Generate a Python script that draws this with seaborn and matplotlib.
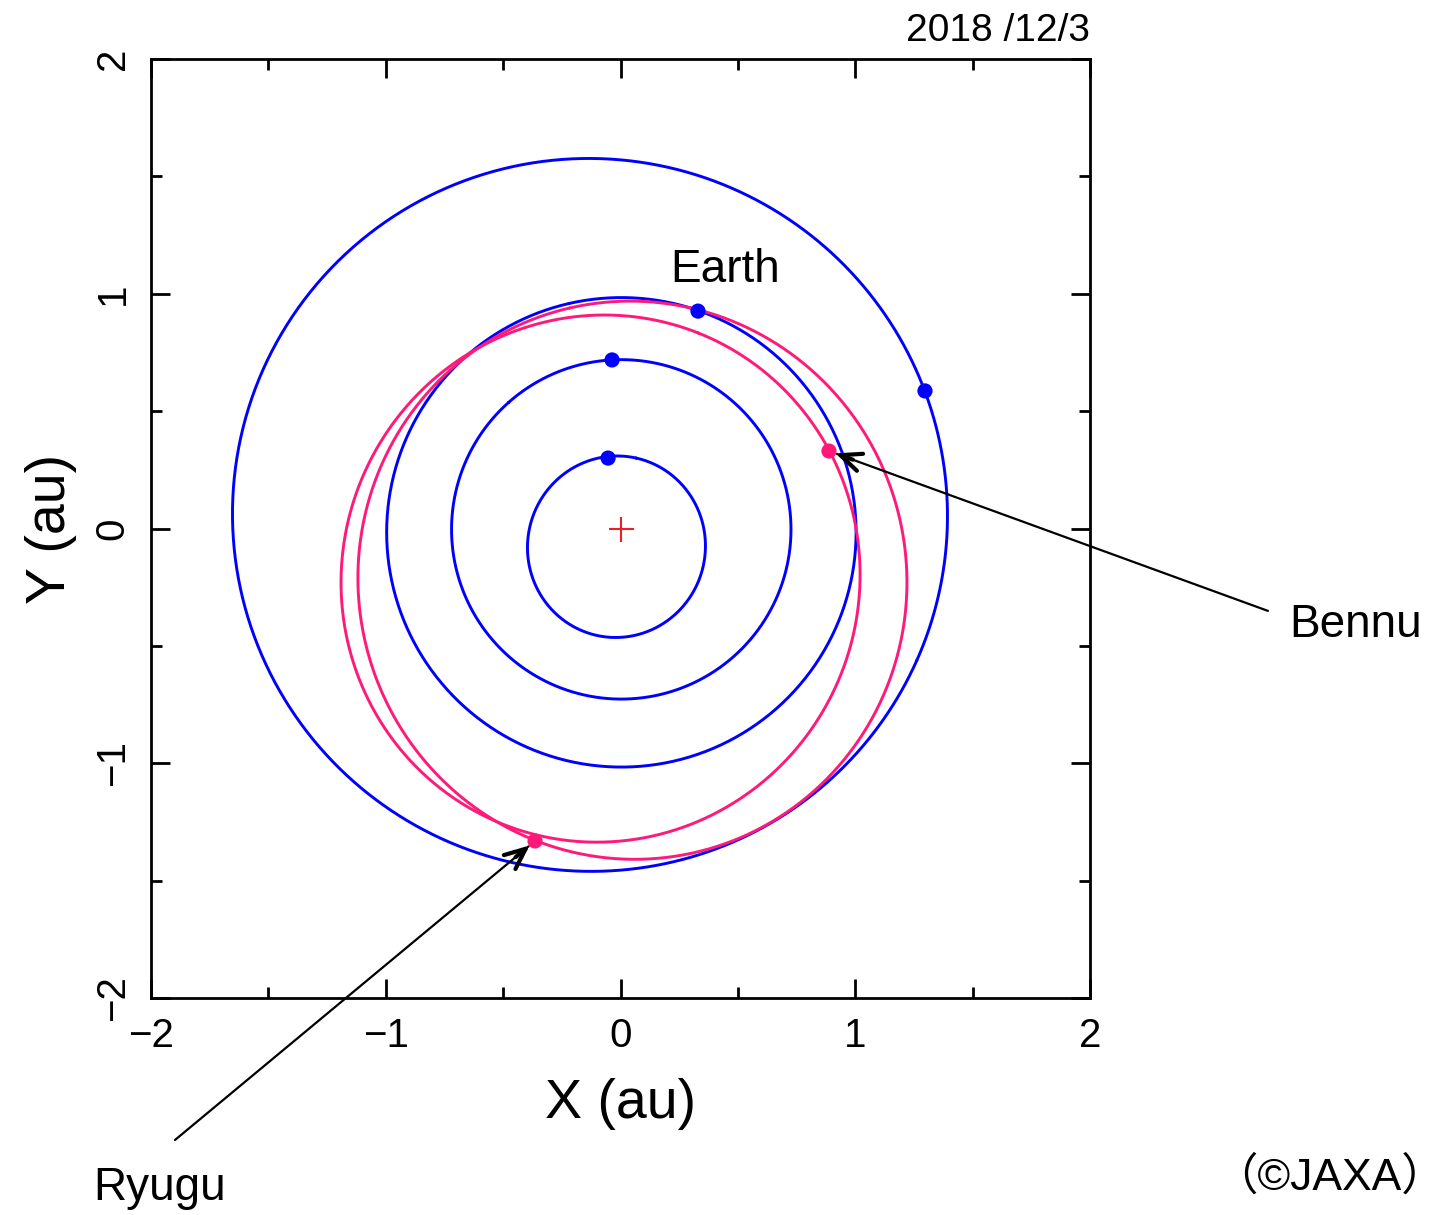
import numpy as np
import pandas as pd
import seaborn as sns
import matplotlib.pyplot as plt

# orbital elements (2D, ecliptic projection): a (au), e, longitude of perihelion (deg)
bodies = ['Mercury', 'Venus', 'Earth', 'Mars', 'Ryugu', 'Bennu']
semi_major = [0.387, 0.723, 1.000, 1.524, 1.190, 1.126]
eccentricity = [0.2056, 0.0068, 0.0167, 0.0934, 0.190, 0.204]
perihelion_lon = [77.5, 131.5, 102.9, 336.0, 103.0, 68.3]

# positions on 2018/12/3 (au)
pos_x = [-0.053, -0.036, 0.330, 1.297, -0.364, 0.888]
pos_y = [0.300, 0.718, 0.926, 0.586, -1.331, 0.330]

blue = '#0000ff'
pink = '#ff1a7a'
colores = {'Mercury': blue, 'Venus': blue, 'Earth': blue, 'Mars': blue,
           'Ryugu': pink, 'Bennu': pink}

# curves from the elements
filas = []
theta = np.linspace(0, 2 * np.pi, 721)
for nombre, a, e, w in zip(bodies, semi_major, eccentricity, perihelion_lon):
    r = a * (1 - e ** 2) / (1 + e * np.cos(theta))
    ang = theta + np.radians(w)
    for i in range(len(theta)):
        filas.append((nombre, i, r[i] * np.cos(ang[i]), r[i] * np.sin(ang[i])))
orbitas = pd.DataFrame(filas, columns=['body', 'k', 'x', 'y'])
puntos = pd.DataFrame({'body': bodies, 'x': pos_x, 'y': pos_y})

sns.set_style('white')
plt.rcParams['font.family'] = ['Liberation Sans', 'DejaVu Sans']
plt.rcParams['text.color'] = 'black'
plt.rcParams['axes.labelcolor'] = 'black'

fig = plt.figure(figsize=(14.46, 12.15), dpi=100)
ax = fig.add_axes([151 / 1446, 217 / 1215, 939 / 1446, 939 / 1215])

sns.lineplot(data=orbitas, x='x', y='y', hue='body', units='body', estimator=None,
             sort=False, palette=colores, lw=2.1, legend=False, ax=ax)
sns.scatterplot(data=puntos, x='x', y='y', hue='body', palette=colores, s=120,
                edgecolor='none', legend=False, ax=ax, zorder=5)
ax.plot([0], [0], marker='+', color='#e8202a', markersize=18, mew=1.5, ls='none')

ax.set_xlim(-2, 2)
ax.set_ylim(-2, 2)
ax.set_xticks([-2, -1, 0, 1, 2])
ax.set_yticks([-2, -1, 0, 1, 2])
ax.set_xticks(np.arange(-1.5, 2, 1), minor=True)
ax.set_yticks(np.arange(-1.5, 2, 1), minor=True)
ax.tick_params(which='both', direction='in', top=True, right=True, bottom=True, left=True,
               colors='black', width=2, labelsize=29, pad=14)
ax.tick_params(which='major', length=14)
ax.tick_params(which='minor', length=8)
for lab in ax.get_yticklabels():
    lab.set_rotation(90)
    lab.set_va('center')
for s in ax.spines.values():
    s.set_color('black')
    s.set_linewidth(2)

ax.set_xlabel('X (au)', fontsize=40, labelpad=16)
ax.set_ylabel('Y (au)', fontsize=40, labelpad=12)

fig.text(1090 / 1446, 1 - 41 / 1215, '2018 /12/3', fontsize=28, ha='right', va='baseline')

ax.text(0.445, 1.10, 'Earth', fontsize=33, ha='center', va='center')

# arrows to the asteroids
ax.annotate('', xy=(0.888, 0.33), xytext=(2.758, -0.351), annotation_clip=False,
            arrowprops=dict(arrowstyle='-', lw=1.6, color='black', shrinkA=0, shrinkB=6))
ax.annotate('', xy=(0.888, 0.33), xytext=(0.99, 0.293), annotation_clip=False,
            arrowprops=dict(arrowstyle='->,head_length=1.5,head_width=0.65', lw=3.0,
                            color='black', shrinkA=0, shrinkB=5))
ax.annotate('', xy=(-0.364, -1.331), xytext=(-1.898, -2.605), annotation_clip=False,
            arrowprops=dict(arrowstyle='-', lw=1.6, color='black', shrinkA=0, shrinkB=6))
ax.annotate('', xy=(-0.364, -1.331), xytext=(-0.447, -1.40), annotation_clip=False,
            arrowprops=dict(arrowstyle='->,head_length=1.5,head_width=0.65', lw=3.0,
                            color='black', shrinkA=0, shrinkB=5))

ax.text(2.85, -0.41, 'Bennu', fontsize=33, ha='left', va='center', clip_on=False)
ax.text(-1.962, -2.81, 'Ryugu', fontsize=33, ha='center', va='center', clip_on=False)
fig.text(1330 / 1446, 1 - 1178 / 1215, '（©JAXA）', fontsize=32, ha='center', va='center',
         family=['Liberation Sans', 'Noto Sans CJK JP'])

plt.savefig('out.png', dpi=100)
